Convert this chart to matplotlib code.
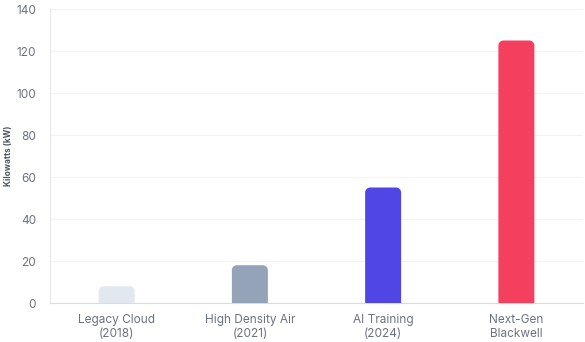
import matplotlib
matplotlib.use("Agg")
import matplotlib.pyplot as plt
from matplotlib.path import Path
from matplotlib.patches import PathPatch

categories = ["Legacy Cloud\n(2018)", "High Density Air\n(2021)", "AI Training\n(2024)", "Next-Gen\nBlackwell"]
values = [8, 18, 55, 125]
colors = ["#e2e8f0", "#94a3b8", "#4f46e5", "#f43f5e"]
yticks = [0, 20, 40, 60, 80, 100, 120, 140]

plt.rcParams['font.family'] = ['Inter', 'DejaVu Sans']

fig = plt.figure(figsize=(5.85, 3.42), dpi=100)
ax = fig.add_axes([50/585, 39/342, 533/585, 294/342])

bar_w = 0.27
xs = list(range(len(values)))
ax.set_xlim(-0.5, len(values) - 0.5)
ax.set_ylim(0, 140)

# pixel scales
px_per_x = 533 / len(values)
px_per_y = 294 / 140
r_px = 5
rx = r_px / px_per_x
ry = r_px / px_per_y

for x, v, c in zip(xs, values, colors):
    l, r = x - bar_w / 2, x + bar_w / 2
    k = 0.5523
    verts = [(l, 0), (l, v - ry),
             (l, v - ry + k * ry), (l + rx - k * rx, v), (l + rx, v),
             (r - rx, v),
             (r - rx + k * rx, v), (r, v - ry + k * ry), (r, v - ry),
             (r, 0), (l, 0)]
    codes = [Path.MOVETO, Path.LINETO,
             Path.CURVE4, Path.CURVE4, Path.CURVE4,
             Path.LINETO,
             Path.CURVE4, Path.CURVE4, Path.CURVE4,
             Path.LINETO, Path.CLOSEPOLY]
    ax.add_patch(PathPatch(Path(verts, codes), facecolor=c, edgecolor='none', zorder=3))

ax.set_yticks(yticks)
ax.set_xticks(xs)
ax.set_xticklabels(categories)
ax.tick_params(axis='both', length=0, labelsize=8.5, labelcolor='#6b7280')
ax.tick_params(axis='y', pad=10)
ax.tick_params(axis='x', pad=8)
for lab in ax.get_xticklabels():
    lab.set_linespacing(1.25)

ax.grid(axis='y', color='#f1f3f5', linewidth=0.8, zorder=0)
ax.set_axisbelow(True)
for s in ['top', 'right']:
    ax.spines[s].set_visible(False)
ax.spines['left'].set_color('#e5e7eb')
ax.spines['bottom'].set_color('#d9dde3')
ax.spines['left'].set_linewidth(0.8)
ax.spines['bottom'].set_linewidth(0.8)

ax.set_ylabel("Kilowatts (kW)", fontsize=6, fontweight='bold', color='#4b5563')
ax.yaxis.set_label_coords(-37/533, 0.5)

fig.savefig("out.png", dpi=100, facecolor='white')
